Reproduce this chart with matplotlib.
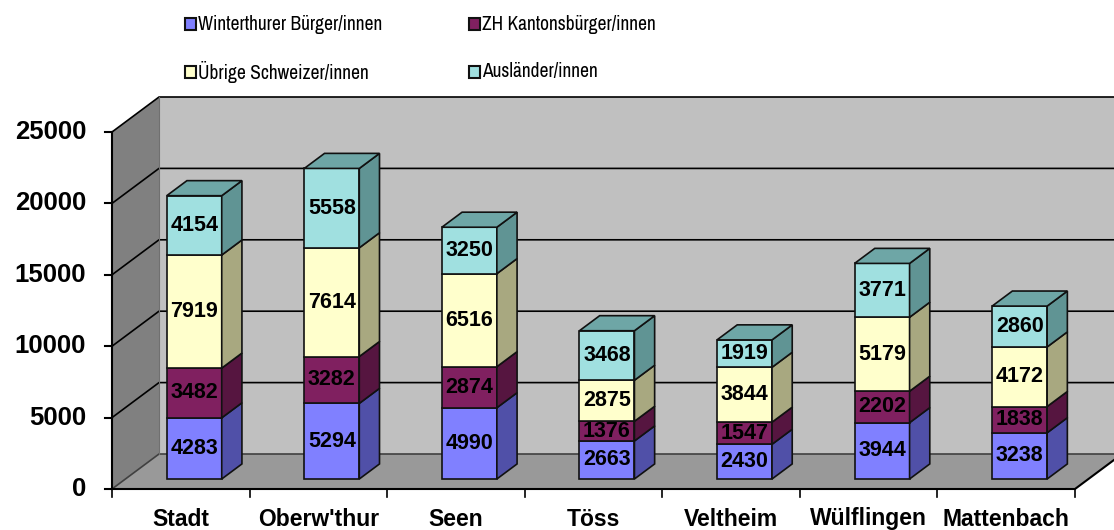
import matplotlib
matplotlib.use('Agg')
import matplotlib.pyplot as plt
from matplotlib.patches import Polygon, Rectangle
from matplotlib import font_manager as fm

# Data
categories = ['Stadt', "Oberw'thur", 'Seen', 'Töss', 'Veltheim', 'Wülflingen', 'Mattenbach']
winterthurer = [4283, 5294, 4990, 2663, 2430, 3944, 3238]
zh_kanton = [3482, 3282, 2874, 1376, 1547, 2202, 1838]
uebrige = [7919, 7614, 6516, 2875, 3844, 5179, 4172]
auslaender = [4154, 5558, 3250, 3468, 1919, 3771, 2860]
series_names = ['Winterthurer Bürger/innen', 'ZH Kantonsbürger/innen',
                'Übrige Schweizer/innen', 'Ausländer/innen']
y_ticks = [0, 5000, 10000, 15000, 20000, 25000]

front_cols = ['#8080FF', '#802060', '#FFFFCC', '#A0E0E0']
side_cols = ['#5050A8', '#561540', '#A8A880', '#609494']
top_col = '#6EA6A6'

plt.rcParams['font.family'] = ['Liberation Sans', 'DejaVu Sans']

# legend text in the reference is condensed -> use a narrow face if one exists
leg_prop = fm.FontProperties(family=['Liberation Sans', 'DejaVu Sans'], size=12.5)
narrow = [f for f in fm.fontManager.ttflist
          if ('Narrow' in f.name or 'Condensed' in f.name
              or f.stretch in ('condensed', 'semi-condensed'))
          and f.style == 'normal' and f.weight in (400, 'normal', 'regular')]
if narrow:
    narrow.sort(key=lambda f: (0 if 'Liberation' in f.name else 1, f.name))
    leg_prop = fm.FontProperties(fname=narrow[0].fname, size=14)

W, H = 1114, 530
fig = plt.figure(figsize=(W / 100, H / 100), dpi=100)
ax = fig.add_axes([0, 0, 1, 1])

# scales (px per unit) of the reference layout
XS = 137.57
YS = 357 / 25000
x0_px, y0_px = 112, 489
ax.set_xlim(-x0_px / XS, (W - x0_px) / XS)
ax.set_ylim(-(H - y0_px) / YS, y0_px / YS)
ax.axis('off')

n = len(categories)
ymax = 25000
DX, DY = 47 / XS, 35 / YS          # wall depth
lw = 1.2

# left wall
ax.add_patch(Polygon([(0, 0), (0, ymax), (DX, ymax + DY), (DX, DY)],
                     closed=True, fc='#808080', ec='none', zorder=1))
# back wall
ax.add_patch(Polygon([(DX, DY), (DX, ymax + DY), (n + DX, ymax + DY), (n + DX, DY)],
                     closed=True, fc='#C0C0C0', ec='none', zorder=1))
# floor
ax.add_patch(Polygon([(0, 0), (n, 0), (n + DX, DY), (DX, DY)],
                     closed=True, fc='#999999', ec='none', zorder=1))

# gridlines
for v in y_ticks:
    c = '#404040' if v == 0 else 'black'
    ax.plot([0, DX, n + DX], [v, v + DY, v + DY], color=c, lw=lw, zorder=2)
ax.plot([DX, DX], [DY, ymax + DY], color='#707070', lw=0.8, zorder=2)

# axes lines
ax.plot([0, 0], [0, ymax], color='black', lw=1.5, zorder=3)
ax.plot([0, n, n + DX], [0, 0, DY], color='black', lw=1.5, zorder=3)
for v in y_ticks:
    ax.plot([-7 / XS, 0], [v, v], color='black', lw=1.5, zorder=3)
    ax.text(-26 / XS, v, str(v), ha='right', va='center', fontsize=18.5,
            fontweight='bold', zorder=4)
for i in range(n + 1):
    ax.plot([i, i], [0, -8 / YS], color='black', lw=1.2, zorder=3)
for i, cat in enumerate(categories):
    ax.text(i + 0.5, -30 / YS, cat, ha='center', va='center', fontsize=16.5,
            fontweight='bold', zorder=4)

# 3D stacked bars
bw = 55 / XS
f_front = 0.286
f_depth = 0.43
ddx, ddy = f_depth * DX, f_depth * DY
series = [winterthurer, zh_kanton, uebrige, auslaender]
for i in range(n):
    xc = i + 0.5 + f_front * DX
    xl, xr = xc - bw / 2, xc + bw / 2
    base = 0
    for s, vals in enumerate(series):
        v = vals[i]
        b = base + f_front * DY
        t = base + v + f_front * DY
        ax.add_patch(Rectangle((xl, b), bw, v, fc=front_cols[s], ec='#111111',
                               lw=lw, zorder=5))
        ax.add_patch(Polygon([(xr, b), (xr + ddx, b + ddy), (xr + ddx, t + ddy), (xr, t)],
                             closed=True, fc=side_cols[s], ec='#111111', lw=lw, zorder=5))
        ax.text(xc, (b + t) / 2, str(v), ha='center', va='center', fontsize=15.5,
                fontweight='bold', zorder=6)
        base += v
    t = base + f_front * DY
    ax.add_patch(Polygon([(xl, t), (xr, t), (xr + ddx, t + ddy), (xl + ddx, t + ddy)],
                         closed=True, fc=top_col, ec='#111111', lw=lw, zorder=5))

# legend (manual)
leg_pos = [(185, 24), (469, 24), (185, 72), (469, 72)]
for (px, py), name, col in zip(leg_pos, series_names, front_cols):
    fig.patches.append(Rectangle((px / W, 1 - (py + 6) / H), 11 / W, 12 / H,
                                 transform=fig.transFigure, fc=col, ec='#111111',
                                 lw=1.5, figure=fig))
    fig.text((px + 13) / W, 1 - py / H, name, ha='left', va='center',
             fontproperties=leg_prop)

fig.savefig('out.png', dpi=100)
